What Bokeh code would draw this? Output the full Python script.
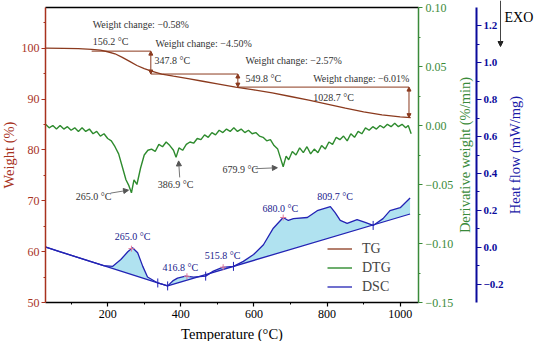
import math
import numpy as np
from bokeh.plotting import figure
from bokeh.models import (Range1d, LinearAxis, FixedTicker, CustomJSTickFormatter, Label,
                          Arrow, NormalHead, Legend, LegendItem)
from bokeh.embed import file_html
from bokeh.resources import INLINE

FONT = "Liberation Serif"
C_TG = "#8b3a1e"
C_TG_AX = "#a8321e"
C_DTG = "#2e8b2e"
C_DTG_AX = "#3a8a3a"
C_DSC = "#2323b4"
C_DSC_AX = "#0a0a9c"
C_FILL = "#b0e2f0"
C_TXT = "#333333"

# ---------------- data ----------------
tg_T = [30, 80, 120, 156.2, 180, 200, 220, 240, 260, 280, 300, 320, 347.8, 380, 420, 460, 500,
        549.8, 600, 650, 700, 750, 800, 850, 900, 950, 1000, 1028.7]
tg_W = [100.0, 99.98, 99.9, 99.75, 99.6, 99.3, 98.9, 98.2, 97.4, 96.6, 96.0, 95.5, 94.92, 94.5,
        94.0, 93.5, 93.0, 92.35, 91.8, 91.2, 90.5, 89.8, 89.0, 88.2, 87.5, 86.9, 86.5, 86.34]

step_temps = [156.2, 347.8, 549.8, 1028.7]
weight_changes = [-0.58, -4.50, -2.57, -6.01]
arrow_T = [318, 556, 1024]

dtg_T = [30, 40, 50, 60, 70, 80, 90, 100, 110, 120, 130, 140, 150, 160, 170, 180, 190, 200,
         210, 220, 230, 240, 250, 258, 265, 272, 280, 290, 300, 310, 320, 330, 340, 350, 360,
         370, 380, 387, 395, 405, 415, 425, 435, 445, 455, 465, 475, 485, 495, 505, 515, 525,
         535, 545, 555, 565, 575, 585, 595, 605, 615, 625, 635, 645, 655, 665, 672, 680, 688,
         695, 705, 715, 725, 735, 745, 755, 765, 775, 785, 795, 805, 815, 825, 835, 845, 855,
         865, 875, 885, 895, 905, 915, 925, 935, 945, 955, 965, 975, 985, 995, 1005, 1015,
         1022, 1030]
dtg_v = [0.001, -0.002, 0.000, -0.003, 0.000, -0.003, -0.001, -0.004, -0.002, -0.005, -0.002,
         -0.005, -0.003, -0.007, -0.005, -0.009, -0.007, -0.011, -0.013, -0.018, -0.024, -0.035,
         -0.046, -0.051, -0.057, -0.046, -0.050, -0.036, -0.025, -0.021, -0.020, -0.022, -0.016,
         -0.018, -0.014, -0.017, -0.021, -0.027, -0.019, -0.021, -0.016, -0.014, -0.015, -0.011,
         -0.012, -0.008, -0.010, -0.006, -0.008, -0.004, -0.006, -0.003, -0.005, -0.002, -0.005,
         -0.003, -0.006, -0.004, -0.007, -0.006, -0.009, -0.010, -0.013, -0.012, -0.017, -0.020,
         -0.027, -0.035, -0.026, -0.029, -0.022, -0.025, -0.019, -0.023, -0.018, -0.024, -0.020,
         -0.023, -0.017, -0.020, -0.014, -0.016, -0.010, -0.012, -0.009, -0.013, -0.007, -0.010,
         -0.005, -0.007, -0.002, -0.004, -0.001, -0.003, 0.000, -0.002, 0.001, -0.001, 0.002,
         -0.001, 0.001, -0.002, 0.000, -0.007]
dtg_peaks = [265.0, 386.9, 679.9]

dsc_T = [31, 70, 107, 150, 189, 214, 236, 255, 268, 282, 296, 309, 337, 364, 378, 391, 413,
         435, 468, 489, 514, 544, 571, 599, 626, 653, 680, 694, 708, 746, 773, 809, 822, 836,
         855, 882, 904, 926, 953, 972, 1000, 1027]
dsc_v = [0.0, -0.025, -0.048, -0.076, -0.100, -0.104, -0.067, -0.025, -0.003, -0.03, -0.104,
         -0.162, -0.194, -0.21, -0.183, -0.168, -0.157, -0.162, -0.157, -0.13, -0.109, -0.104,
         -0.077, -0.04, 0.013, 0.103, 0.161, 0.145, 0.155, 0.161, 0.198, 0.22, 0.187, 0.145,
         0.129, 0.15, 0.134, 0.118, 0.155, 0.198, 0.214, 0.267]
base_T = [31, 337, 364, 1027]
base_v = [0.0, -0.194, -0.21, 0.18]
dsc_limits = [337, 364, 468, 544, 926]
dsc_peaks = [265.0, 416.8, 515.8, 680.0, 809.7]

x_ticks = [200, 400, 600, 800, 1000]
w_ticks = [50, 60, 70, 80, 90, 100]
dtg_ticks = [-0.15, -0.10, -0.05, 0.0, 0.05, 0.10]
dsc_ticks = [-0.2, 0.0, 0.2, 0.4, 0.6, 0.8, 1.0, 1.2]

# ---------------- geometry ----------------
W, H = 534, 341                    # canvas
BL, BR, BT, BB = 45, 418, 7, 302   # plotting box inside the canvas (pixels)
X0, X1 = 30, 1050                  # temperature span of the box
W_LO, W_HI = 50, 108
D_LO, D_HI = -0.15, 0.10
S_LO, S_HI = -0.3, 1.3

UX = (X1 - X0) / (BR - BL)
XMIN = X0 - BL * UX
XMAX = X1 + (W - BR) * UX


def ext_range(lo, hi):
    u = (hi - lo) / (BB - BT)
    return Range1d(lo - (H - BB) * u, hi + BT * u)


def px_x(px):
    return XMIN + px * UX


def px_y(py, lo=W_LO, hi=W_HI):
    u = (hi - lo) / (BB - BT)
    return hi + (BT - py) * u


p = figure(width=W, height=H, x_range=Range1d(XMIN, XMAX), y_range=ext_range(W_LO, W_HI),
           output_backend="svg", toolbar_location=None,
           min_border_left=0, min_border_right=0, min_border_top=0, min_border_bottom=0)
p.extra_y_ranges = {"dtg": ext_range(D_LO, D_HI), "dsc": ext_range(S_LO, S_HI)}
p.xgrid.visible = False
p.ygrid.visible = False
p.outline_line_color = None
p.background_fill_color = "white"
p.border_fill_color = "white"


def style_axis(ax, color, tick_size="12px", bold=False):
    ax.axis_label = None
    ax.major_label_text_font = FONT
    ax.major_label_text_font_size = tick_size
    ax.major_label_text_font_style = "bold" if bold else "normal"
    ax.major_label_text_color = color
    ax.axis_line_color = color
    ax.axis_line_width = 1.5
    ax.major_tick_line_color = color
    ax.minor_tick_line_color = color
    ax.major_tick_line_width = 1.2
    ax.minor_tick_line_width = 1.0
    ax.major_tick_in = 0
    ax.major_tick_out = 4
    ax.minor_tick_in = 0
    ax.minor_tick_out = 2
    ax.major_label_standoff = 3


xa = p.xaxis[0]
style_axis(xa, "black")
xa.fixed_location = W_LO
xa.bounds = (X0, X1)
xa.ticker = FixedTicker(ticks=x_ticks, minor_ticks=[t - 100 for t in x_ticks])

ya = p.yaxis[0]
style_axis(ya, C_TG_AX)
ya.fixed_location = X0
ya.bounds = (W_LO, W_HI)
ya.ticker = FixedTicker(ticks=w_ticks, minor_ticks=[t + 5 for t in w_ticks])
ya.major_label_standoff = 2

ta = LinearAxis(fixed_location=W_HI, bounds=(X0, X1), ticker=FixedTicker(ticks=[]))
style_axis(ta, "black")
p.add_layout(ta, "above")

ga = LinearAxis(y_range_name="dtg", fixed_location=X1, bounds=(D_LO, D_HI))
style_axis(ga, C_DTG_AX)
ga.ticker = FixedTicker(ticks=dtg_ticks, minor_ticks=[t + 0.025 for t in dtg_ticks[:-1]])
ga.formatter = CustomJSTickFormatter(
    code="return (tick < -1e-9 ? '\u2212' : '') + Math.abs(tick).toFixed(2);")
p.add_layout(ga, "right")

ba = LinearAxis(y_range_name="dsc", fixed_location=px_x(476), bounds=(S_LO, S_HI))
style_axis(ba, C_DSC_AX, tick_size="11px", bold=True)
ba.axis_line_width = 2
ba.major_tick_out = 5
ba.minor_tick_out = 3
ba.major_label_standoff = 2
ba.ticker = FixedTicker(ticks=dsc_ticks, minor_ticks=[t + 0.1 for t in dsc_ticks[:-1]])
ba.formatter = CustomJSTickFormatter(
    code="return (tick < -1e-9 ? '\u2212' : '') + Math.abs(tick).toFixed(1);")
p.add_layout(ba, "right")

# axis titles
ymid = (BT + BB) / 2
p.add_layout(Label(x=px_x(8), y=px_y(ymid), text="Weight (%)", angle=math.pi / 2,
                   text_font=FONT, text_font_size="14.5px", text_color=C_TG_AX,
                   text_align="center", text_baseline="middle"))
p.add_layout(Label(x=px_x((BL + BR) / 2), y=px_y(333), text="Temperature (\u00b0C)",
                   text_font=FONT, text_font_size="14.5px", text_color="black",
                   text_align="center", text_baseline="middle"))
p.add_layout(Label(x=px_x(464), y=px_y(ymid), text="Derivative weight (%/min)",
                   angle=math.pi / 2, text_font=FONT, text_font_size="14.5px",
                   text_color=C_DTG_AX, text_align="center", text_baseline="middle"))
p.add_layout(Label(x=px_x(514), y=px_y(ymid), text="Heat flow (mW/mg)",
                   angle=math.pi / 2, text_font=FONT, text_font_size="14.5px",
                   text_color="#1a1aa8", text_align="center", text_baseline="middle"))

# ---------------- DSC ----------------
base_at = np.interp(dsc_T, base_T, base_v)
fill_top = np.maximum(np.array(dsc_v), base_at)
p.varea(x=dsc_T, y1=base_at, y2=fill_top, fill_color=C_FILL, y_range_name="dsc")
p.line(base_T, base_v, line_color=C_DSC, line_width=1.3, y_range_name="dsc")
dsc_r = p.line(dsc_T, dsc_v, line_color=C_DSC, line_width=1.3, y_range_name="dsc")
lim_v = np.interp(dsc_limits, dsc_T, dsc_v)
p.scatter(dsc_limits, lim_v, marker="dash", angle=math.pi / 2, size=9, line_color=C_DSC,
          line_width=1, y_range_name="dsc")
pk_v = np.interp(dsc_peaks[:4], dsc_T, dsc_v)
p.scatter(dsc_peaks[:4], pk_v, marker="cross", size=6, line_color="#e07a9a", line_width=1,
          y_range_name="dsc")

dsc_label_pos = [(268, 0.060), (399, -0.109), (514, -0.046), (672, 0.209), (822, 0.277)]
for t, (lx, ly) in zip(dsc_peaks, dsc_label_pos):
    p.add_layout(Label(x=lx, y=ly, y_range_name="dsc", text=f"{t:.1f} \u00b0C",
                       text_font=FONT, text_font_size="10px", text_color="#1a1a8c",
                       text_align="center", text_baseline="middle"))

# ---------------- DTG ----------------
dtg_r = p.line(dtg_T, dtg_v, line_color=C_DTG, line_width=1.4, y_range_name="dtg")
dtg_label_pos = [(113, -0.0598), (337, -0.0498), (514, -0.0374)]
dtg_arrows = [((208, -0.0573), (257, -0.0548)), ((397, -0.0440), (394, -0.0300)),
              ((604, -0.0366), (664, -0.0358))]
for t, (lx, ly), (a0, a1) in zip(dtg_peaks, dtg_label_pos, dtg_arrows):
    p.add_layout(Label(x=lx, y=ly, y_range_name="dtg", text=f"{t:.1f} \u00b0C",
                       text_font=FONT, text_font_size="10px", text_color=C_TXT,
                       text_align="left", text_baseline="middle"))
    p.add_layout(Arrow(x_start=a0[0], y_start=a0[1], x_end=a1[0], y_end=a1[1],
                       y_range_name="dtg", line_color="#777777", line_width=1,
                       end=NormalHead(size=5, fill_color="#555555", line_color="#555555")))

# ---------------- TG ----------------
tg_r = p.line(tg_T, tg_W, line_color=C_TG, line_width=1.3)
levels = [100.0]
for wc in weight_changes:
    levels.append(round(levels[-1] + wc, 2))
seg_x0 = [step_temps[0], arrow_T[0], arrow_T[1]]
seg_x1 = [arrow_T[0], arrow_T[1], arrow_T[2]]
seg_y = [levels[1], levels[2], levels[3]]
p.segment(x0=seg_x0, y0=seg_y, x1=seg_x1, y1=seg_y, line_color=C_TG, line_width=1)
for i in range(3):
    p.add_layout(Arrow(x_start=arrow_T[i], y_start=levels[i + 1], x_end=arrow_T[i],
                       y_end=levels[i + 2], line_color=C_TG, line_width=1,
                       start=NormalHead(size=4, fill_color=C_TG, line_color=C_TG),
                       end=NormalHead(size=4, fill_color=C_TG, line_color=C_TG)))

wc_pos = [(159, 104.6), (331, 100.96), (577, 97.5), (762, 94.04)]
t_pos = [(159, 101.35), (328, 97.5), (577, 94.04), (762, 90.38)]
for wc, (wx, wy) in zip(weight_changes, wc_pos):
    p.add_layout(Label(x=wx, y=wy, text=f"Weight change: \u2212{abs(wc):.2f}%",
                       text_font=FONT, text_font_size="10px", text_color=C_TXT,
                       text_align="left", text_baseline="middle"))
for t, (tx, ty) in zip(step_temps, t_pos):
    p.add_layout(Label(x=tx, y=ty, text=f"{t:.1f} \u00b0C",
                       text_font=FONT, text_font_size="10px", text_color=C_TXT,
                       text_align="left", text_baseline="middle"))

# ---------------- EXO marker ----------------
p.add_layout(Arrow(x_start=px_x(500), y_start=px_y(0), x_end=px_x(500), y_end=px_y(46),
                   line_color="#444444", line_width=1,
                   end=NormalHead(size=5, fill_color="#222222", line_color="#222222")))
p.add_layout(Label(x=px_x(504), y=px_y(17), text="EXO", text_font=FONT,
                   text_font_size="14px", text_color="black", text_align="left",
                   text_baseline="middle"))

# ---------------- legend ----------------
legend = Legend(items=[LegendItem(label="TG", renderers=[tg_r]),
                       LegendItem(label="DTG", renderers=[dtg_r]),
                       LegendItem(label="DSC", renderers=[dsc_r])],
                location=(327, 45), orientation="vertical", border_line_color=None,
                background_fill_alpha=0, label_text_font=FONT, label_text_font_size="14px",
                glyph_width=25, glyph_height=19, label_height=19, spacing=0, padding=0,
                margin=0, label_standoff=10)
p.add_layout(legend)

open("out.html", "w").write(file_html(p, INLINE))
